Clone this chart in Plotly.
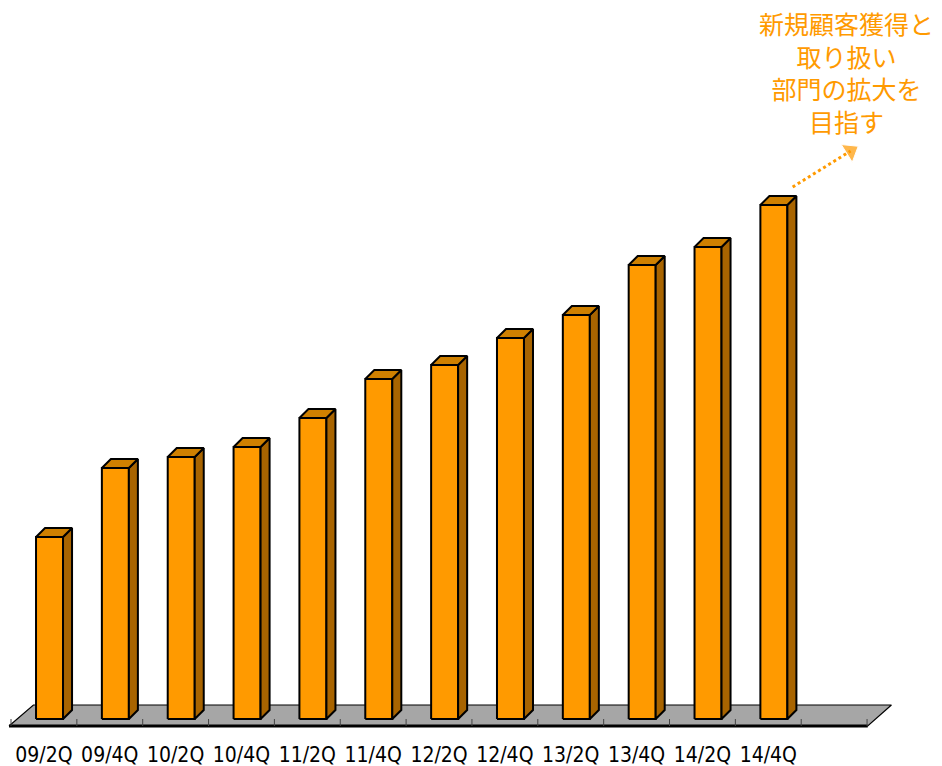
import plotly.graph_objects as go

# Quarterly figures (arbitrary units, no value axis shown)
quarters = ["09/2Q", "09/4Q", "10/2Q", "10/4Q", "11/2Q", "11/4Q",
            "12/2Q", "12/4Q", "13/2Q", "13/4Q", "14/2Q", "14/4Q"]
values = [182, 251, 262, 272, 301, 340, 354, 381, 404, 454, 472, 514]
n_slots = 13  # one empty slot kept after the last quarter

note_lines = ["新規顧客獲得と", "取り扱い", "部門の拡大を", "目指す"]

# Colours
FRONT = "#FF9A00"
SIDE = "#A86400"
TOP = "#CF8000"
FLOOR = "#A6A6A6"
NOTE = "#FF9A00"

# Pseudo-3D geometry (x in category units, y in value units)
bar_off = -0.12     # front face left edge relative to slot centre
bar_w = 0.41        # front face width
dx, dy = 0.137, 9   # depth offset of the bar
fl_front, fl_back = -7, 14   # floor front/back edges
fl_shift = 0.36              # horizontal slant of the floor

fig = go.Figure()

def poly(xs, ys, fill, lw=2):
    fig.add_trace(go.Scatter(
        x=xs + [xs[0]], y=ys + [ys[0]], mode="lines", fill="toself",
        fillcolor=fill, line=dict(color="black", width=lw),
        hoverinfo="skip", showlegend=False))

# Floor
x0, x1 = -0.53, n_slots - 0.49
poly([x0, x1, x1 + fl_shift, x0 + fl_shift + 0.01],
     [fl_front, fl_front, fl_back, fl_back], FLOOR, lw=1.2)
fig.add_trace(go.Scatter(x=[x0, x1], y=[fl_front, fl_front], mode="lines",
                         line=dict(color="black", width=3),
                         hoverinfo="skip", showlegend=False))
# Category separators on the floor's front edge
for k in range(n_slots + 1):
    fig.add_trace(go.Scatter(x=[k - 0.5, k - 0.5], y=[fl_front, 0], mode="lines",
                             line=dict(color="#444444", width=1),
                             hoverinfo="skip", showlegend=False))

# Bars
for k, v in enumerate(values):
    L = k + bar_off
    R = L + bar_w
    poly([L, R, R, L], [0, 0, v, v], FRONT)
    poly([R, R + dx, R + dx, R], [0, dy, v + dy, v], SIDE)
    poly([L, R, R + dx, L + dx], [v, v, v + dy, v + dy], TOP)

# Category labels
fig.add_trace(go.Scatter(
    x=list(range(len(quarters))), y=[-38] * len(quarters), mode="text",
    text=quarters, textposition="middle center",
    textfont=dict(family="DejaVu Sans Condensed, sans-serif",
                  size=21, color="black"),
    hoverinfo="skip", showlegend=False))

# Dotted arrow pointing beyond the last bar
last = len(values) - 1
ax0, ay0 = last + 0.37, values[-1] + 18
ax1, ay1 = ax0 + 0.88, ay0 + 36
fig.add_trace(go.Scatter(
    x=[ax0, ax1], y=[ay0, ay1], mode="lines+markers",
    line=dict(color=NOTE, width=3, dash="dot"),
    marker=dict(symbol=["circle", "triangle-up"], size=[0, 18], color=NOTE,
                angleref="previous"),
    hoverinfo="skip", showlegend=False))

fig.add_annotation(
    x=846 / 942, y=1 - 72 / 766, xref="paper", yref="paper",
    xanchor="center", yanchor="middle", showarrow=False, align="center",
    text="<br>".join(note_lines),
    font=dict(family="Noto Sans CJK JP", size=25, color=NOTE))

fig.update_xaxes(visible=False, range=[-0.667, 13.638], fixedrange=True)
fig.update_yaxes(visible=False, range=[-47, 719], fixedrange=True)
fig.update_layout(width=942, height=766, margin=dict(l=0, r=0, t=0, b=0),
                  paper_bgcolor="white", plot_bgcolor="white")

fig.write_html("out.html")
